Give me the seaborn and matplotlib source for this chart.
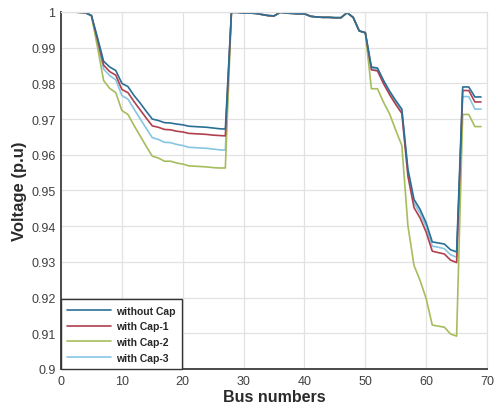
import numpy as np
import pandas as pd
import seaborn as sns
import matplotlib.pyplot as plt

# Bus numbers of the 69-bus feeder
buses = list(range(1, 70))

# Voltage profiles (p.u)
v_without_cap = [1.0000, 1.0000, 0.9999, 0.9998, 0.9990, 0.9928, 0.9862, 0.9846, 0.9836, 0.9800,
                 0.9791, 0.9766, 0.9745, 0.9722, 0.9700, 0.9696, 0.9690, 0.9689, 0.9686, 0.9684,
                 0.9680, 0.9679, 0.9678, 0.9677, 0.9675, 0.9673, 0.9672, 0.9999, 0.9999, 0.9997,
                 0.9997, 0.9996, 0.9993, 0.9990, 0.9989, 0.9999, 0.9997, 0.9996, 0.9995, 0.9995,
                 0.9988, 0.9986, 0.9985, 0.9985, 0.9984, 0.9984, 0.9998, 0.9985, 0.9947, 0.9942,
                 0.9846, 0.9843, 0.9808, 0.9778, 0.9752, 0.9728, 0.9560, 0.9475, 0.9447, 0.9409,
                 0.9356, 0.9353, 0.9350, 0.9334, 0.9328, 0.9790, 0.9790, 0.9762, 0.9762]

v_cap1 = [1.0000, 1.0000, 0.9999, 0.9998, 0.9990, 0.9922, 0.9851, 0.9833, 0.9823, 0.9783,
          0.9774, 0.9749, 0.9726, 0.9703, 0.9681, 0.9677, 0.9671, 0.9670, 0.9666, 0.9664,
          0.9660, 0.9659, 0.9658, 0.9657, 0.9655, 0.9654, 0.9653, 0.9999, 0.9999, 0.9997,
          0.9997, 0.9996, 0.9993, 0.9990, 0.9989, 0.9999, 0.9997, 0.9996, 0.9995, 0.9995,
          0.9988, 0.9986, 0.9985, 0.9985, 0.9984, 0.9984, 0.9998, 0.9985, 0.9947, 0.9942,
          0.9838, 0.9835, 0.9799, 0.9768, 0.9741, 0.9716, 0.9540, 0.9452, 0.9423, 0.9383,
          0.9330, 0.9326, 0.9322, 0.9305, 0.9298, 0.9780, 0.9780, 0.9748, 0.9748]

v_cap2 = [1.0000, 1.0000, 0.9999, 0.9998, 0.9990, 0.9901, 0.9808, 0.9786, 0.9774, 0.9724,
          0.9713, 0.9682, 0.9653, 0.9624, 0.9596, 0.9591, 0.9582, 0.9582, 0.9577, 0.9574,
          0.9569, 0.9568, 0.9567, 0.9566, 0.9564, 0.9563, 0.9563, 0.9999, 0.9999, 0.9997,
          0.9997, 0.9996, 0.9993, 0.9990, 0.9989, 0.9999, 0.9997, 0.9996, 0.9995, 0.9995,
          0.9988, 0.9986, 0.9985, 0.9985, 0.9984, 0.9984, 0.9998, 0.9985, 0.9947, 0.9942,
          0.9785, 0.9785, 0.9747, 0.9714, 0.9669, 0.9626, 0.9401, 0.9290, 0.9248, 0.9197,
          0.9123, 0.9120, 0.9117, 0.9098, 0.9092, 0.9713, 0.9713, 0.9679, 0.9679]

v_cap3 = [1.0000, 1.0000, 0.9999, 0.9998, 0.9990, 0.9912, 0.9840, 0.9822, 0.9810, 0.9766,
          0.9756, 0.9728, 0.9701, 0.9674, 0.9648, 0.9643, 0.9635, 0.9634, 0.9629, 0.9626,
          0.9621, 0.9620, 0.9619, 0.9618, 0.9616, 0.9614, 0.9613, 0.9999, 0.9999, 0.9997,
          0.9997, 0.9996, 0.9993, 0.9990, 0.9989, 0.9999, 0.9997, 0.9996, 0.9995, 0.9995,
          0.9988, 0.9986, 0.9985, 0.9985, 0.9984, 0.9984, 0.9998, 0.9985, 0.9947, 0.9942,
          0.9842, 0.9839, 0.9803, 0.9773, 0.9746, 0.9722, 0.9550, 0.9465, 0.9436, 0.9398,
          0.9344, 0.9341, 0.9337, 0.9320, 0.9313, 0.9763, 0.9763, 0.9728, 0.9728]

labels = ["without Cap", "with Cap-1", "with Cap-2", "with Cap-3"]
colors = ["#2b6f96", "#b0404e", "#a6bd5c", "#86c6e0"]
ytick_labels = ["0.9", "0.91", "0.92", "0.93", "0.94", "0.95", "0.96", "0.97", "0.98", "0.99", "1"]

df = pd.DataFrame({"bus": buses,
                   labels[0]: v_without_cap,
                   labels[1]: v_cap1,
                   labels[2]: v_cap2,
                   labels[3]: v_cap3})
long_df = df.melt(id_vars="bus", var_name="case", value_name="voltage")

sns.set_style("whitegrid")
plt.rcParams['font.family'] = ['Liberation Sans', 'DejaVu Sans']

fig = plt.figure(figsize=(4.98, 4.06), dpi=100)
ax = fig.add_axes([0.1225, 0.0887, 0.8555, 0.8793])

# draw in reverse so the blue line sits on top
for lab, col in list(zip(labels, colors))[::-1]:
    sns.lineplot(data=long_df[long_df["case"] == lab], x="bus", y="voltage",
                 color=col, lw=1.2, label=lab, ax=ax)

ax.set_xlim(0, 70)
ax.set_ylim(0.9, 1.0)
ax.set_xticks(range(0, 71, 10))
ax.set_yticks(np.round(np.arange(0.9, 1.001, 0.01), 2))
ax.set_yticklabels(ytick_labels)

ax.grid(True, color="#e2e2e2", lw=0.9)
ax.tick_params(direction="in", length=3, colors="#555555", labelcolor="#404040", labelsize=9, pad=4)
for side in ["left", "bottom"]:
    ax.spines[side].set_color("#4a4a4a")
    ax.spines[side].set_linewidth(1.4)
for side in ["top", "right"]:
    ax.spines[side].set_color("#e2e2e2")
    ax.spines[side].set_linewidth(0.9)

ax.set_xlabel("Bus numbers", fontsize=11.5, fontweight="bold", color="#2a2a2a", labelpad=2)
ax.set_ylabel("Voltage (p.u)", fontsize=12, fontweight="bold", color="#2a2a2a", labelpad=3)

# legend in original order
handles, labs = ax.get_legend_handles_labels()
order = [labs.index(l) for l in labels]
leg = ax.legend([handles[i] for i in order], labels, loc="lower left",
                prop={"weight": "bold", "size": 7.5}, frameon=True, fancybox=False,
                borderaxespad=0.0, handlelength=4.2, handletextpad=0.5,
                labelspacing=0.55, borderpad=0.6)
leg.get_frame().set_edgecolor("#333333")
leg.get_frame().set_linewidth(1.0)
leg.get_frame().set_alpha(1)

plt.savefig("out.png", dpi=100)
